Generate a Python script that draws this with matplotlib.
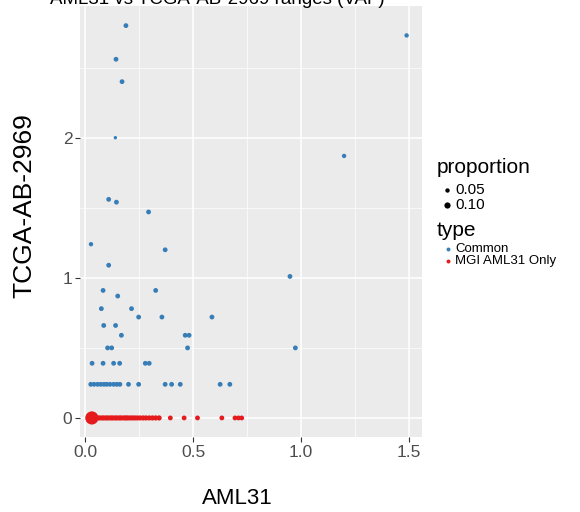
import matplotlib
matplotlib.use('Agg')
import matplotlib.pyplot as plt
from matplotlib.lines import Line2D

plt.rcParams['font.family'] = ['Liberation Sans', 'DejaVu Sans']

# Common sites: x = AML31 VAF, y = TCGA-AB-2969 VAF
common_x = [0.188, 0.142, 0.170, 0.139, 1.490, 1.200,
            0.108, 0.144, 0.293, 0.026, 0.370, 0.108, 0.949,
            0.082, 0.326, 0.150, 0.074, 0.214, 0.247, 0.355, 0.587,
            0.085, 0.140, 0.167, 0.463, 0.481,
            0.103, 0.122, 0.474, 0.974,
            0.031, 0.082, 0.131, 0.159, 0.278, 0.296,
            0.025, 0.040, 0.056, 0.071, 0.086, 0.099, 0.114, 0.131, 0.146, 0.160,
            0.200, 0.247, 0.370, 0.400, 0.440, 0.625, 0.670]
common_y = [2.80, 2.56, 2.40, 2.00, 2.73, 1.87,
            1.56, 1.54, 1.47, 1.24, 1.20, 1.09, 1.01,
            0.91, 0.91, 0.87, 0.78, 0.78, 0.72, 0.72, 0.72,
            0.66, 0.66, 0.59, 0.59, 0.59,
            0.50, 0.50, 0.50, 0.50,
            0.39, 0.39, 0.39, 0.39, 0.39, 0.39,
            0.24, 0.24, 0.24, 0.24, 0.24, 0.24, 0.24, 0.24, 0.24, 0.24,
            0.24, 0.24, 0.24, 0.24, 0.24, 0.24, 0.24]
common_prop = [0.06, 0.06, 0.06, 0.03, 0.05, 0.05,
               0.06, 0.06, 0.06, 0.05, 0.06, 0.06, 0.06,
               0.06, 0.06, 0.06, 0.06, 0.06, 0.06, 0.06, 0.06,
               0.06, 0.06, 0.06, 0.06, 0.06,
               0.06, 0.06, 0.06, 0.06,
               0.06, 0.06, 0.06, 0.06, 0.06, 0.06,
               0.06, 0.06, 0.06, 0.06, 0.06, 0.06, 0.06, 0.06, 0.06, 0.06,
               0.06, 0.06, 0.06, 0.06, 0.06, 0.06, 0.06]

# MGI AML31 only sites (absent in TCGA -> y = 0)
mgi_x = [0.030, 0.022, 0.036, 0.047, 0.057, 0.066, 0.077, 0.086, 0.097,
         0.106, 0.117, 0.126, 0.137, 0.146, 0.157, 0.166, 0.178, 0.187,
         0.196, 0.207, 0.218, 0.229, 0.241, 0.254, 0.268, 0.281, 0.296,
         0.311, 0.326, 0.342, 0.394, 0.458, 0.520, 0.633, 0.694, 0.710, 0.725]
mgi_y = [0.0] * len(mgi_x)
mgi_prop = [0.45, 0.07, 0.07, 0.07, 0.07, 0.07, 0.07, 0.07, 0.07,
            0.07, 0.07, 0.07, 0.07, 0.07, 0.07, 0.07, 0.07, 0.07,
            0.07, 0.07, 0.07, 0.07, 0.07, 0.07, 0.07, 0.07, 0.07,
            0.07, 0.07, 0.07, 0.06, 0.06, 0.06, 0.06, 0.06, 0.06, 0.06]

x_ticks = [0.0, 0.5, 1.0, 1.5]
x_labels = ['0.0', '0.5', '1.0', '1.5']
y_ticks = [0, 1, 2]
y_labels = ['0', '1', '2']
legend_sizes = [0.05, 0.10]

BLUE = '#377EB8'
RED = '#E41A1C'
SIZE_K = 200  # points^2 per unit proportion


def area(props):
    return [SIZE_K * p for p in props]


fig = plt.figure(figsize=(5.8, 5.12), dpi=100)
ax = fig.add_axes([80 / 580, 1 - 437 / 512, (421.7 - 80) / 580, (437 - 6) / 512])

ax.set_facecolor('#EBEBEB')
for s in ax.spines.values():
    s.set_visible(False)

ax.set_xlim(-0.025, 1.56)
ax.set_ylim(-0.136, 2.94)
ax.set_xticks(x_ticks)
ax.set_xticklabels(x_labels)
ax.set_yticks(y_ticks)
ax.set_yticklabels(y_labels)
ax.set_xticks([0.25, 0.75, 1.25], minor=True)
ax.set_yticks([0.5, 1.5, 2.5], minor=True)
ax.grid(True, which='major', color='white', linewidth=1.1)
ax.grid(True, which='minor', color='white', linewidth=0.5)
ax.set_axisbelow(True)
ax.tick_params(which='major', length=3.5, width=0.8, color='#333333',
               labelsize=12.5, labelcolor='#4D4D4D', pad=2)
ax.tick_params(which='minor', length=0)

ax.scatter(common_x, common_y, s=area(common_prop), color=BLUE,
           linewidths=0, zorder=3)
ax.scatter(mgi_x, mgi_y, s=area(mgi_prop), color=RED,
           linewidths=0, zorder=3)

# axis titles
fig.text(237 / 580, 1 - 504 / 512, 'AML31', ha='center', va='baseline',
         fontsize=16, color='black')
fig.text(24 / 580, 1 - 206 / 512, 'TCGA-AB-2969', ha='center', va='center',
         rotation=90, fontsize=19, color='black')

# title, mostly cut off by the top edge
fig.text(50 / 580, 1 - 4 / 512, 'AML31 vs TCGA-AB-2969 ranges (VAF)',
         ha='left', va='baseline', fontsize=13.5, color='black')


# legend (drawn by hand, ggplot style)
def fy(py):
    return 1 - py / 512


fig.text(437 / 580, fy(173), 'proportion', ha='left', va='baseline', fontsize=15)
for p, py in zip(legend_sizes, [190, 205]):
    fig.add_artist(Line2D([447 / 580], [fy(py)], marker='o', linestyle='none',
                          markersize=(SIZE_K * p) ** 0.5, color='black',
                          markeredgewidth=0, transform=fig.transFigure))
    fig.text(455 / 580, fy(py), f'{p:.2f}', ha='left', va='center', fontsize=11)

fig.text(437 / 580, fy(236), 'type', ha='left', va='baseline', fontsize=15)
for lab, col, py in zip(['Common', 'MGI AML31 Only'], [BLUE, RED], [249, 261]):
    fig.add_artist(Line2D([448 / 580], [fy(py)], marker='o', linestyle='none',
                          markersize=(SIZE_K * 0.04) ** 0.5, color=col,
                          markeredgewidth=0, transform=fig.transFigure))
    fig.text(455 / 580, fy(py), lab, ha='left', va='center', fontsize=9.5)

fig.savefig('out.png', dpi=100)
